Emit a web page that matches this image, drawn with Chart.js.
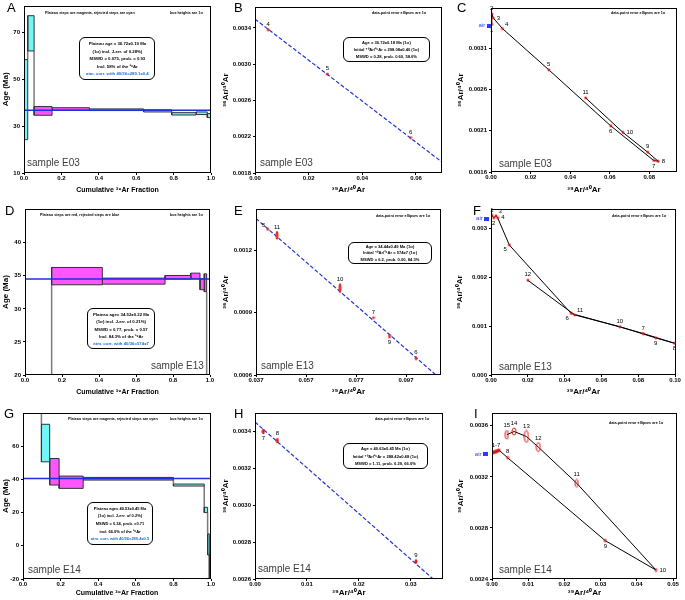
<!DOCTYPE html>
<html><head><meta charset="utf-8">
<script src="https://cdn.jsdelivr.net/npm/chart.js@4.4.1/dist/chart.umd.min.js"></script>
<style>
body{margin:0;background:#fff;width:685px;height:600px;position:relative;overflow:hidden;font-family:"Liberation Sans",Arial,sans-serif;}
canvas{position:absolute;}
.t{position:absolute;white-space:nowrap;color:#000;}
.letter{font-size:13px;line-height:13px;}
.note{font-size:10px;line-height:12px;font-weight:bold;transform:scale(0.37);transform-origin:0 0;}
.box{position:absolute;border:1px solid #000;border-radius:6px;background:#fff;box-sizing:border-box;overflow:visible;}
.in{position:absolute;left:0;top:0;text-align:center;font-size:10px;font-weight:bold;white-space:nowrap;transform-origin:0 0;}
.blue{color:#1a6fd6;}
.sample{font-size:10px;line-height:12px;color:#3c3c3c;}
</style></head><body>
<canvas id="cA"></canvas><canvas id="cB"></canvas><canvas id="cC"></canvas>
<canvas id="cD"></canvas><canvas id="cE"></canvas><canvas id="cF"></canvas>
<canvas id="cG"></canvas><canvas id="cH"></canvas><canvas id="cI"></canvas>

<div class="t letter" style="left:7px;top:1px">A</div>
<div class="t letter" style="left:234px;top:1px">B</div>
<div class="t letter" style="left:457px;top:1px">C</div>
<div class="t letter" style="left:5px;top:204px">D</div>
<div class="t letter" style="left:234px;top:204px">E</div>
<div class="t letter" style="left:473px;top:204px">F</div>
<div class="t letter" style="left:4px;top:407px">G</div>
<div class="t letter" style="left:234px;top:407px">H</div>
<div class="t letter" style="left:474px;top:407px">I</div>

<div class="t note" style="left:45px;top:10.8px">Plateau steps are magenta, rejected steps are cyan</div>
<div class="t note" style="left:170px;top:10.8px">box heights are 1σ</div>
<div class="t note" style="left:372px;top:10.8px">data-point error ellipses are 1σ</div>
<div class="t note" style="left:611px;top:10.8px">data-point error ellipses are 1σ</div>
<div class="t note" style="left:40px;top:212.8px">Plateau steps are red, rejected steps are blue</div>
<div class="t note" style="left:170px;top:212.8px">box heights are 1σ</div>
<div class="t note" style="left:376px;top:213.8px">data-point error ellipses are 1σ</div>
<div class="t note" style="left:612px;top:213.8px">data-point error ellipses are 1σ</div>
<div class="t note" style="left:68px;top:416.8px">Plateau steps are magenta, rejected steps are cyan</div>
<div class="t note" style="left:170px;top:416.8px">box heights are 1σ</div>
<div class="t note" style="left:375px;top:416.8px">data-point error ellipses are 1σ</div>
<div class="t note" style="left:609px;top:420.8px">data-point error ellipses are 1σ</div>

<div class="box" style="left:79px;top:37px;width:76px;height:43px"><div class="in" style="width:174px;line-height:17.7px;padding-top:4px;transform:scale(0.43)">Plateau age = 36.72±0.19 Ma<br>(1σ) incl. J-err. of 0.28%)<br>MSWD = 0.075, prob. = 0.93<br>Incl. 58% of the ³⁹Ar<br><span class="blue">atm. corr. with 40/36=289.1±0.4</span></div></div>
<div class="box" style="left:87px;top:308px;width:68px;height:41px"><div class="in" style="width:154px;line-height:17px;padding-top:4px;transform:scale(0.43)">Plateau age= 34.52±0.22 Ma<br>(1σ) incl. J-err. of 0.21%)<br>MSWD = 0.77, prob. = 0.57<br>Incl. 84.3% of the ³⁹Ar<br><span class="blue">atm. corr. with 40/36=574±7</span></div></div>
<div class="box" style="left:87px;top:502px;width:66px;height:43px"><div class="in" style="width:160px;line-height:19px;padding-top:4px;transform:scale(0.4)">Plateau age= 40.53±0.45 Ma<br>(1σ) incl. J-err. of 0.2%)<br>MSWD = 0.34, prob. =0.71<br>incl. 66.0% of the ³⁹Ar<br><span class="blue">atm. corr. with 40/36=289.4±0.5</span></div></div>
<div class="box" style="left:343px;top:37px;width:87px;height:25px"><div class="in" style="width:207px;line-height:17.6px;padding-top:2px;transform:scale(0.41)">Age = 36.72±0.18 Ma (1σ)<br>Initial ⁴⁰Ar/³⁶Ar = 298.08±0.40 (1σ)<br>MSWD = 0.28, prob. 0.60, 58.0%</div></div>
<div class="box" style="left:348px;top:242px;width:84px;height:22px"><div class="in" style="width:200px;line-height:15.6px;padding-top:1px;transform:scale(0.41)">Age = 34.44±0.49 Ma (1σ)<br>Initial ⁴⁰Ar/³⁶Ar = 574±7 (1σ)<br>MSWD = 6.2, prob. 0.00, 84.3%</div></div>
<div class="box" style="left:343px;top:443px;width:85px;height:26px"><div class="in" style="width:202px;line-height:18px;padding-top:3px;transform:scale(0.41)">Age = 40.63±0.45 Ma (1σ)<br>Initial ⁴⁰Ar/³⁶Ar = 288.42±0.48 (1σ)<br>MSWD = 1.11, prob. 0.29, 66.0%</div></div>

<div class="t sample" style="left:27px;top:157px">sample E03</div>
<div class="t sample" style="left:260px;top:157px">sample E03</div>
<div class="t sample" style="left:499px;top:158px">sample E03</div>
<div class="t sample" style="left:151px;top:360px">sample E13</div>
<div class="t sample" style="left:261px;top:360px">sample E13</div>
<div class="t sample" style="left:499px;top:361px">sample E13</div>
<div class="t sample" style="left:28px;top:564px">sample E14</div>
<div class="t sample" style="left:258px;top:563px">sample E14</div>
<div class="t sample" style="left:499px;top:564px">sample E14</div>

<script>
// ================= DATA =================
// --- A: sample E03 age spectrum ---
const stepEdgesA = [0, 0.02, 0.054, 0.15, 0.35, 0.64, 0.79, 0.92, 0.98, 1.0];
const ageLowA    = [24.2, 62.0, 34.6, 36.7, 36.6, 36.0, 34.7, 34.9, 33.6];
const ageHighA   = [58.3, 77.0, 38.3, 37.8, 37.3, 36.9, 35.7, 36.0, 35.3];
const inPlateauA = [false, false, true, true, true, false, false, false, false];
const plateauAgeA = 36.72;
const xTicksA = [0, 0.2, 0.4, 0.6, 0.8, 1.0];
const yTicksA = [10, 30, 50, 70];

// --- B: sample E03 inverse isochron (plateau steps) ---
const stepsB = ['4', '5', '6'];
const x39B = [0.0049, 0.027, 0.058];
const y36B = [0.00338, 0.00289, 0.00219];
const xErrB = [0.0002, 0.0002, 0.0002];
const yErrB = [0.000008, 0.000008, 0.000008];
const fitXB = [0, 0.0697];
const fitYB = [0.003496, 0.00192];
const xTicksB = [0, 0.02, 0.04, 0.06];
const yTicksB = [0.0018, 0.0022, 0.0026, 0.0030, 0.0034];

// --- C: sample E03 all steps ---
const stepsC = ['1', '2', '3', '4', '5', '6', '7', '8', '9', '10', '11'];
const x39C = [0.0003, 0.0004, 0.0011, 0.0058, 0.0292, 0.0605, 0.0822, 0.0845, 0.0792, 0.0667, 0.0478];
const y36C = [0.00339, 0.00352, 0.00347, 0.00334, 0.00284, 0.00216, 0.00174, 0.00173, 0.00184, 0.00208, 0.00250];
const xErrC = [0.0002, 0.0002, 0.0002, 0.0002, 0.0002, 0.0002, 0.0002, 0.0002, 0.0002, 0.0002, 0.0002];
const yErrC = [0.000006, 0.000006, 0.000006, 0.000006, 0.000006, 0.000006, 0.000006, 0.000006, 0.000006, 0.000006, 0.000006];
const airC = [-0.0009, 0.003376];
const xTicksC = [0, 0.02, 0.04, 0.06, 0.08];
const yTicksC = [0.0016, 0.0021, 0.0026, 0.0031];

// --- D: sample E13 age spectrum ---
const stepEdgesD = [0, 0.144, 0.418, 0.757, 0.896, 0.946, 0.969, 0.982, 1.0];
const ageLowD    = [12.0, 33.64, 33.74, 34.50, 34.55, 32.90, 32.60, 10.0];
const ageHighD   = [16.0, 36.26, 34.65, 35.05, 35.40, 34.55, 35.30, 14.0];
const inPlateauD = [false, true, true, true, true, true, true, false];
const plateauAgeD = 34.52;
const xTicksD = [0, 0.2, 0.4, 0.6, 0.8, 1.0];
const yTicksD = [20, 25, 30, 35, 40];

// --- E: sample E13 inverse isochron ---
const stepsE = ['5', '11', '10', '7', '9', '6'];
const x39E = [0.0417, 0.0454, 0.0706, 0.0840, 0.0904, 0.1010];
const y36E = [0.001302, 0.001273, 0.001019, 0.000876, 0.000787, 0.000681];
const xErrE = [0.0002, 0.0004, 0.0004, 0.0002, 0.0003, 0.0003];
const yErrE = [0.000006, 0.000019, 0.000022, 0.000006, 0.000010, 0.000007];
const fitXE = [0.037, 0.109];
const fitYE = [0.001354, 0.0006];
const xTicksE = [0.037, 0.057, 0.077, 0.097];
const yTicksE = [0.0006, 0.0009, 0.0012];

// --- F: sample E13 all steps ---
const stepsF = ['1', '2', '3', '4', '5', '6', '7', '8', '9', '10', '11', '12'];
const x39F = [0.0005, 0.0015, 0.0027, 0.0036, 0.0100, 0.0436, 0.0827, 0.0997, 0.0895, 0.0700, 0.0455, 0.0200];
const y36F = [0.00327, 0.00322, 0.00326, 0.00322, 0.00266, 0.00126, 0.00085, 0.00065, 0.00076, 0.00099, 0.00123, 0.00194];
const xErrF = [0.0003, 0.0003, 0.0003, 0.0003, 0.0003, 0.0003, 0.0003, 0.0003, 0.0003, 0.0003, 0.0003, 0.0003];
const yErrF = [0.00001, 0.00001, 0.00001, 0.00001, 0.00001, 0.00001, 0.00001, 0.00001, 0.00001, 0.00001, 0.00001, 0.00001];
const airF = [-0.0023, 0.0032];
const xTicksF = [0, 0.02, 0.04, 0.06, 0.08, 0.10];
const yTicksF = [0, 0.001, 0.002, 0.003];

// --- G: sample E14 age spectrum ---
const stepEdgesG = [0, 0.098, 0.142, 0.192, 0.32, 0.80, 0.964, 0.982, 0.991, 1.0];
const ageLowG    = [95, 50.6, 36.6, 34.6, 39.6, 36.0, 20.0, -5.5, -40];
const ageHighG   = [110, 73.2, 52.6, 42.0, 41.2, 37.2, 23.2, 7.2, -4.3];
const inPlateauG = [false, false, true, true, true, false, false, false, false];
const plateauAgeG = 40.53;
const xTicksG = [0, 0.2, 0.4, 0.6, 0.8, 1.0];
const yTicksG = [-20, 0, 20, 40, 60];

// --- H: sample E14 inverse isochron ---
const stepsH = ['7', '8', '9'];
const x39H = [0.0016, 0.0043, 0.0310];
const y36H = [0.00340, 0.00335, 0.002695];
const xErrH = [0.0001, 0.0001, 0.0001];
const yErrH = [0.000014, 0.000014, 0.000010];
const fitXH = [0, 0.0343];
const fitYH = [0.003451, 0.0026];
const xTicksH = [0, 0.01, 0.02, 0.03];
const yTicksH = [0.0026, 0.0028, 0.0030, 0.0032, 0.0034];

// --- I: sample E14 all steps ---
const stepsI = ['', '', '', '1-7', '', '', '', '8', '9', '10', '11', '12', '13', '14', '15'];
const x39I = [0.0002, 0.0005, 0.0008, 0.0011, 0.0014, 0.0017, 0.0020, 0.0043, 0.0313, 0.0453, 0.0234, 0.0128, 0.0095, 0.0061, 0.0041];
const y36I = [0.003390, 0.003392, 0.003396, 0.003398, 0.003402, 0.003405, 0.003408, 0.00335, 0.00270, 0.00247, 0.00315, 0.003433, 0.003516, 0.003555, 0.00353];
const xErrI = [0.0002, 0.0002, 0.0002, 0.0002, 0.0002, 0.0002, 0.0002, 0.0002, 0.0003, 0.0003, 0.0004, 0.0005, 0.0006, 0.0005, 0.0004];
const yErrI = [0.00001, 0.00001, 0.00001, 0.00001, 0.00001, 0.00001, 0.00001, 0.00001, 0.00001, 0.00001, 0.000031, 0.000035, 0.000047, 0.000026, 0.000034];
const airI = [-0.0018, 0.00338];
const xTicksI = [0, 0.01, 0.02, 0.03, 0.04, 0.05];
const yTicksI = [0.0024, 0.0028, 0.0032, 0.0036];

// ================= RENDERING =================
const FAM = "'Liberation Sans', Arial, sans-serif";
Chart.defaults.font.family = FAM;
Chart.defaults.color = '#000';
const tickFont = {family: FAM, size: 6, weight: 'bold'};

const ellCache = {};
function ellipseImg(rx, ry, stroke, fillC) {
  rx = Math.max(1, Math.round(rx * 2) / 2); ry = Math.max(1, Math.round(ry * 2) / 2);
  const key = rx + '_' + ry + stroke + fillC;
  if (ellCache[key]) return ellCache[key];
  const c = document.createElement('canvas');
  c.width = Math.ceil(rx * 2 + 2); c.height = Math.ceil(ry * 2 + 2);
  const g = c.getContext('2d');
  g.beginPath(); g.ellipse(c.width / 2, c.height / 2, rx, ry, 0, 0, Math.PI * 2);
  if (fillC) { g.fillStyle = fillC; g.fill(); }
  g.lineWidth = 1; g.strokeStyle = stroke; g.stroke();
  return (ellCache[key] = c);
}
function errStyle(xe, ye, stroke, fillC) {
  return ctx => {
    const ch = ctx.chart, i = ctx.dataIndex;
    const sx = ch.scales.x, sy = ch.scales.y;
    if (!sx || !sy || i === undefined || !isFinite(sx.getPixelForValue(0))) return 'circle';
    const rx = Math.abs(sx.getPixelForValue(xe[i]) - sx.getPixelForValue(0));
    const ry = Math.abs(sy.getPixelForValue(ye[i]) - sy.getPixelForValue(0));
    return ellipseImg(rx, ry, stroke, fillC);
  };
}
const airImg = (() => { const c = document.createElement('canvas'); c.width = 5; c.height = 4; const g = c.getContext('2d'); g.fillStyle = '#2a3cff'; g.fillRect(0, 0, 5, 4); return c; })();

const framePlugin = {
  id: 'frame',
  afterDatasetsDraw(chart) {
    const a = chart.chartArea, c = chart.ctx;
    c.save(); c.strokeStyle = '#000'; c.lineWidth = 1;
    c.strokeRect(Math.round(a.left) + 0.5, Math.round(a.top) + 0.5, Math.round(a.right - a.left) - 1, Math.round(a.bottom - a.top) - 1);
    c.restore();
  }
};
const DIRS = {a: [0, -1], b: [0, 1], r: [1, 0], l: [-1, 0], ar: [0.8, -0.8], al: [-0.8, -0.8], br: [0.8, 0.8], bl: [-0.8, 0.8]};
const labelPlugin = {
  id: 'ptlabels',
  afterDatasetsDraw(chart) {
    const c = chart.ctx;
    chart.data.datasets.forEach((ds, di) => {
      if (!ds.pointLabels) return;
      const meta = chart.getDatasetMeta(di);
      c.save();
      c.font = '6px ' + FAM;
      c.fillStyle = ds.labelColor || '#000';
      c.textAlign = 'center'; c.textBaseline = 'middle';
      ds.pointLabels.forEach((t, i) => {
        if (!t) return;
        const el = meta.data[i]; if (!el) return;
        const st = el.options && el.options.pointStyle;
        const hw = st && st.width ? st.width / 2 : 2, hh = st && st.height ? st.height / 2 : 2;
        const d = DIRS[(ds.labelDirs && ds.labelDirs[i]) || 'a'];
        const tw = c.measureText(t).width;
        c.fillText(t, el.x + d[0] * (hw + 1.5 + tw / 2), el.y + d[1] * (hh + 3.5));
      });
      c.restore();
    });
  }
};

const P = (xs, ys) => xs.map((x, i) => ({x, y: ys[i]}));
function lineDS(data, color, width, dash, order) {
  return {data, borderColor: color, borderWidth: width, borderDash: dash || [], pointRadius: 0, fill: false, showLine: true, order};
}
function pointDS(xs, ys, xe, ye, stroke, fillC, labels, dirs) {
  return {data: P(xs, ys), showLine: false, pointRadius: 3, pointBorderWidth: 0,
    pointStyle: errStyle(xe, ye, stroke, fillC), pointLabels: labels, labelDirs: dirs, order: 0};
}
function airDS(a) {
  return {data: [{x: a[0], y: a[1]}], showLine: false, pointRadius: 8, pointBorderWidth: 0, pointStyle: airImg,
    clip: false, pointLabels: ['air'], labelDirs: ['l'], labelColor: '#2a3cff', order: 0};
}
function stepDatasets(edges, lo, hi, inPl, plateau) {
  const ds = [lineDS([{x: 0, y: plateau}, {x: 1, y: plateau}], '#1f2fe0', 1.5, null, 0)];
  for (let i = 0; i < lo.length; i++) {
    const x0 = edges[i], x1 = edges[i + 1];
    ds.push({data: [{x: x0, y: lo[i]}, {x: x1, y: lo[i]}, {x: x1, y: hi[i]}, {x: x0, y: hi[i]}, {x: x0, y: lo[i]}],
      borderColor: '#333', borderWidth: 1, backgroundColor: inPl[i] ? '#ff55ff' : '#70f6f6',
      fill: 'shape', pointRadius: 0, showLine: true, order: 1});
  }
  const conn = [];
  for (let i = 0; i < lo.length - 1; i++) {
    const x = edges[i + 1];
    if (lo[i + 1] > hi[i]) conn.push({x, y: hi[i]}, {x, y: lo[i + 1]}, {x, y: null});
    else if (hi[i + 1] < lo[i]) conn.push({x, y: lo[i]}, {x, y: hi[i + 1]}, {x, y: null});
  }
  ds.push(lineDS(conn, '#7a7a7a', 1.5, null, 2));
  return ds;
}

function makePanel(id, cRect, pRect, o) {
  const cv = document.getElementById(id);
  const [cl, ct, cw, chh] = cRect, [L, T, R, B] = pRect;
  cv.style.left = cl + 'px'; cv.style.top = ct + 'px';
  cv.width = cw; cv.height = chh;
  const yW = L - cl, xH = ct + chh - B, padT = T - ct, padR = cl + cw - R;
  const xPadB = Math.max(0, ct + chh - o.xTitleY - o.xTitleSize * 0.6);
  const yPadT = Math.max(0, o.yTitleX - cl - o.yTitleSize * 0.6);
  const mk = (min, max, ticks, dec, title, tsize, tpad, isX) => ({
    type: 'linear', min, max,
    afterBuildTicks: s => { s.ticks = ticks.map(v => ({value: v})); },
    afterFit: s => { if (isX) s.height = xH; else s.width = yW; },
    ticks: {callback: v => Number(v).toFixed(dec), font: tickFont, color: '#000', padding: isX ? 0 : 2,
      maxRotation: 0, minRotation: 0, autoSkip: false},
    grid: {display: true, drawOnChartArea: false, drawTicks: true, tickLength: 2, color: '#000', lineWidth: 1},
    border: {display: false},
    title: {display: true, text: title, color: '#000', font: {family: FAM, size: tsize, weight: 'bold'},
      padding: isX ? {top: 0, bottom: tpad} : {top: tpad, bottom: 0}}
  });
  return new Chart(cv, {
    type: 'line',
    data: {datasets: o.datasets},
    options: {
      responsive: false, maintainAspectRatio: false, animation: false, devicePixelRatio: 1, events: [],
      layout: {padding: {top: padT, right: padR, left: 0, bottom: 0}},
      plugins: {legend: {display: false}, tooltip: {enabled: false}},
      elements: {line: {tension: 0}},
      scales: {
        x: mk(o.xMin, o.xMax, o.xTicks, o.xDec, o.xTitle, o.xTitleSize, xPadB, true),
        y: mk(o.yMin, o.yMax, o.yTicks, o.yDec, o.yTitle, o.yTitleSize, yPadT, false)
      }
    },
    plugins: [framePlugin, labelPlugin]
  });
}

const T_CUM = 'Cumulative ³⁹Ar Fraction', T_AGE = 'Age (Ma)', T_X = '³⁹Ar/⁴⁰Ar', T_Y = '³⁶Ar/⁴⁰Ar';
const RED = '#e01010';

// Row 1
makePanel('cA', [0, 0, 218, 198], [24, 3, 211, 173], {
  xMin: 0, xMax: 1, xTicks: xTicksA, xDec: 1, yMin: 10, yMax: 81.3, yTicks: yTicksA, yDec: 0,
  xTitle: T_CUM, xTitleSize: 7, xTitleY: 190, yTitle: T_AGE, yTitleSize: 8, yTitleX: 6,
  datasets: stepDatasets(stepEdgesA, ageLowA, ageHighA, inPlateauA, plateauAgeA)});
makePanel('cB', [216, 0, 236, 198], [255, 7, 442, 173], {
  xMin: 0, xMax: 0.0697, xTicks: xTicksB, xDec: 2, yMin: 0.0018, yMax: 0.00363, yTicks: yTicksB, yDec: 4,
  xTitle: T_X, xTitleSize: 8, xTitleY: 190, yTitle: T_Y, yTitleSize: 8, yTitleX: 226,
  datasets: [pointDS(x39B, y36B, xErrB, yErrB, RED, RED, stepsB, ['a', 'a', 'a']),
    lineDS(P(fitXB, fitYB), '#2434d8', 1.2, [4, 2], 1)]});
makePanel('cC', [452, 0, 233, 198], [491, 7, 679, 172], {
  xMin: 0, xMax: 0.094, xTicks: xTicksC, xDec: 2, yMin: 0.0016, yMax: 0.00359, yTicks: yTicksC, yDec: 4,
  xTitle: T_X, xTitleSize: 8, xTitleY: 190, yTitle: T_Y, yTitleSize: 8, yTitleX: 461,
  datasets: [airDS(airC), pointDS(x39C, y36C, xErrC, yErrC, RED, RED, stepsC, ['b', 'a', 'r', 'ar', 'a', 'b', 'b', 'r', 'a', 'r', 'a']),
    lineDS(P(x39C, y36C), '#000', 1, null, 1)]});

// Row 2
makePanel('cD', [0, 198, 218, 201], [25, 209, 210, 375], {
  xMin: 0, xMax: 1, xTicks: xTicksD, xDec: 1, yMin: 20, yMax: 45.1, yTicks: yTicksD, yDec: 0,
  xTitle: T_CUM, xTitleSize: 7, xTitleY: 392, yTitle: T_AGE, yTitleSize: 8, yTitleX: 6,
  datasets: stepDatasets(stepEdgesD, ageLowD, ageHighD, inPlateauD, plateauAgeD)});
makePanel('cE', [216, 198, 236, 201], [256, 209, 441, 375], {
  xMin: 0.037, xMax: 0.111, xTicks: xTicksE, xDec: 3, yMin: 0.0006, yMax: 0.0014, yTicks: yTicksE, yDec: 4,
  xTitle: T_X, xTitleSize: 8, xTitleY: 392, yTitle: T_Y, yTitleSize: 8, yTitleX: 226,
  datasets: [pointDS(x39E, y36E, xErrE, yErrE, RED, '#ff6060', stepsE, ['al', 'a', 'a', 'a', 'b', 'a']),
    lineDS(P(fitXE, fitYE), '#2434d8', 1.2, [4, 2], 1)]});
makePanel('cF', [452, 198, 233, 201], [491, 209, 676, 375], {
  xMin: 0, xMax: 0.1005, xTicks: xTicksF, xDec: 2, yMin: 0, yMax: 0.0034, yTicks: yTicksF, yDec: 3,
  xTitle: T_X, xTitleSize: 8, xTitleY: 392, yTitle: T_Y, yTitleSize: 8, yTitleX: 460,
  datasets: [airDS(airF), pointDS(x39F, y36F, xErrF, yErrF, RED, RED, stepsF, ['a', 'b', 'ar', 'r', 'bl', 'bl', 'a', 'b', 'b', 'a', 'ar', 'a']),
    lineDS(P(x39F, y36F), '#000', 1, null, 1)]});

// Row 3
makePanel('cG', [0, 399, 218, 201], [23, 413, 211, 579], {
  xMin: 0, xMax: 1, xTicks: xTicksG, xDec: 1, yMin: -20, yMax: 80, yTicks: yTicksG, yDec: 0,
  xTitle: T_CUM, xTitleSize: 7, xTitleY: 593, yTitle: T_AGE, yTitleSize: 8, yTitleX: 6,
  datasets: stepDatasets(stepEdgesG, ageLowG, ageHighG, inPlateauG, plateauAgeG)});
makePanel('cH', [216, 399, 236, 201], [255, 413, 443, 579], {
  xMin: 0, xMax: 0.0362, xTicks: xTicksH, xDec: 2, yMin: 0.0026, yMax: 0.0035, yTicks: yTicksH, yDec: 4,
  xTitle: T_X, xTitleSize: 8, xTitleY: 593, yTitle: T_Y, yTitleSize: 8, yTitleX: 226,
  datasets: [pointDS(x39H, y36H, xErrH, yErrH, RED, RED, stepsH, ['b', 'a', 'a']),
    lineDS(P(fitXH, fitYH), '#2434d8', 1.2, [4, 2], 1)]});
makePanel('cI', [452, 399, 233, 201], [492, 413, 679, 579], {
  xMin: 0, xMax: 0.0511, xTicks: xTicksI, xDec: 2, yMin: 0.0024, yMax: 0.0037, yTicks: yTicksI, yDec: 4,
  xTitle: T_X, xTitleSize: 8, xTitleY: 593, yTitle: T_Y, yTitleSize: 8, yTitleX: 461,
  datasets: [airDS(airI), pointDS(x39I, y36I, xErrI, yErrI, RED, null, stepsI, ['a', 'a', 'a', 'a', 'a', 'a', 'a', 'a', 'b', 'r', 'a', 'a', 'a', 'a', 'a']),
    lineDS(P(x39I, y36I), '#000', 1, null, 1)]});
</script>
</body></html>
